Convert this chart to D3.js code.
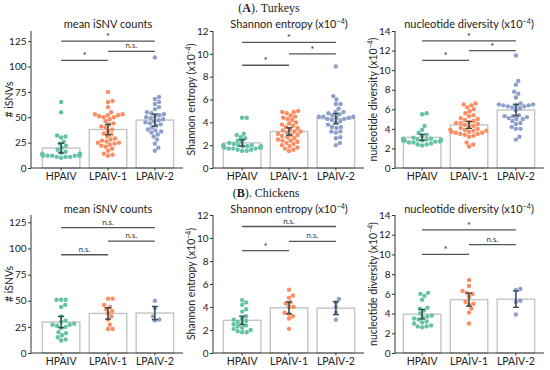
<!DOCTYPE html>
<html><head><meta charset="utf-8">
<script src="https://cdn.jsdelivr.net/npm/d3@7"></script>
<style>body{margin:0;background:#fff}svg{display:block}</style>
</head><body><svg id="c" width="550" height="370"></svg>
<script>
// ---------- DATA ----------
const categories = ["HPAIV", "LPAIV-1", "LPAIV-2"];
const groupColors = ["#66c2a5", "#fc8d62", "#8da0cb"];
const rowTitles = ["A", "B"];
const rowNames = ["Turkeys", "Chickens"];
const panelTitles = ["mean iSNV counts", "Shannon entropy", "nucleotide diversity"];
const yLabels = ["# iSNVs", "Shannon entropy", "nucleotide diversity"];
const ticksIsnv = [0, 25, 50, 75, 100, 125];
const ticksEntropy = [0, 2, 4, 6, 8, 10, 12];
const ticksDiversity = [0, 2, 4, 6, 8, 10, 12, 14];

// Turkeys
const tkIsnvHP = [65, 55, 32, 31, 30, 26, 24, 22, 20, 18, 16, 15, 14, 14, 13, 13, 13, 13, 13, 12, 12, 12, 12, 12, 11, 11, 11, 10];
const tkIsnvLP1 = [75, 66, 65, 60, 55, 53, 53, 52, 52, 51, 50, 50, 48, 46, 44, 43, 41, 40, 38, 36, 34, 33, 31, 29, 28, 27, 26, 25, 25, 24, 23, 22, 21, 19, 17, 14, 13, 12];
const tkIsnvLP2 = [109, 70, 68, 65, 63, 60, 58, 55, 54, 53, 52, 51, 50, 49, 48, 47, 46, 45, 44, 43, 42, 40, 38, 37, 36, 35, 33, 31, 28, 24, 20, 17];
const tkEntHP = [4.4, 4.4, 3.0, 2.9, 2.7, 2.6, 2.4, 2.3, 2.2, 2.1, 2.0, 2.0, 2.0, 1.9, 1.9, 1.9, 1.9, 1.8, 1.8, 1.8, 1.7, 1.7, 1.7, 1.6, 1.6, 1.5, 1.5];
const tkEntLP1 = [5.0, 4.9, 4.9, 4.8, 4.6, 4.5, 4.4, 4.3, 4.2, 4.0, 3.9, 3.8, 3.7, 3.6, 3.5, 3.4, 3.3, 3.2, 3.2, 3.1, 3.0, 2.9, 2.8, 2.7, 2.6, 2.5, 2.4, 2.4, 2.3, 2.2, 2.1, 2.0, 1.9, 1.8, 1.7, 1.6, 1.5, 2.9];
const tkEntLP2 = [8.9, 6.3, 6.0, 5.6, 5.6, 5.2, 4.9, 4.9, 4.8, 4.7, 4.6, 4.5, 4.5, 4.4, 4.3, 4.2, 4.5, 4.4, 4.3, 4.1, 4.0, 3.6, 3.5, 3.8, 3.6, 3.2, 3.1, 3.2, 2.7, 2.6, 2.2, 2.0];
const tkDivHP = [5.6, 5.5, 4.3, 3.9, 3.6, 3.4, 3.3, 3.1, 3.0, 3.0, 2.9, 2.9, 2.9, 2.9, 2.8, 2.8, 2.8, 2.8, 2.8, 2.7, 2.7, 2.6, 2.6, 2.5, 2.4, 2.4, 2.3];
const tkDivLP1 = [6.6, 6.5, 6.4, 6.2, 6.0, 5.8, 5.6, 5.4, 5.3, 5.1, 5.0, 4.9, 4.8, 4.7, 4.6, 4.5, 4.4, 4.3, 4.2, 4.1, 4.0, 3.9, 3.8, 3.7, 3.6, 3.5, 3.9, 3.8, 3.7, 3.6, 3.5, 3.4, 3.3, 3.2, 2.6, 2.4, 2.2, 4.6];
const tkDivLP2 = [11.5, 8.9, 8.5, 7.8, 7.6, 7.2, 6.6, 6.5, 6.4, 6.4, 6.3, 6.2, 6.1, 6.5, 6.4, 6.3, 5.9, 5.3, 5.1, 5.0, 5.4, 5.3, 5.2, 5.0, 4.5, 4.8, 4.6, 4.0, 4.2, 4.0, 3.2, 2.9];
// Chickens
const chIsnvHP = [51, 51, 51, 46, 44, 35, 31, 30, 28, 27, 27, 26, 25, 24, 20, 19, 17, 15, 13, 12];
const chIsnvLP1 = [52, 52, 46, 44, 42, 40, 38, 35, 32, 27, 23, 23];
const chIsnvLP2 = [50, 43, 35, 32, 31];
const chEntHP = [4.6, 4.4, 4.2, 3.8, 3.6, 3.2, 3.0, 2.9, 2.8, 2.7, 2.6, 2.5, 2.4, 2.3, 2.2, 2.1, 2.0, 1.9, 1.8, 1.8];
const chEntLP1 = [5.5, 5.0, 4.8, 4.4, 4.3, 4.0, 4.0, 3.5, 3.4, 3.2, 3.0, 2.1];
const chEntLP2 = [4.7, 4.4, 4.0, 3.5, 2.9];
const chDivHP = [6.1, 6.0, 5.8, 5.4, 4.6, 4.5, 4.3, 4.0, 3.8, 3.7, 3.6, 3.5, 3.4, 3.2, 3.1, 3.0, 2.8, 2.7, 2.7, 2.6];
const chDivLP1 = [7.4, 6.8, 6.3, 6.1, 6.0, 5.7, 5.2, 5.0, 4.9, 4.5, 4.1, 3.0];
const chDivLP2 = [6.5, 6.4, 5.3, 5.2, 3.9];

// significance brackets: [fromGroup, toGroup, level, label]
const tkIsnvSig = [[0, 1, 106, "*"], [1, 2, 115, "n.s."], [0, 2, 125, "*"]];
const tkEntSig = [[0, 1, 9, "*"], [1, 2, 10, "*"], [0, 2, 11, "*"]];
const tkDivSig = [[0, 1, 11, "*"], [1, 2, 12, "*"], [0, 2, 13, "*"]];
const chIsnvSig = [[0, 1, 94, "n.s."], [1, 2, 107, "n.s."], [0, 2, 120, "n.s."]];
const chEntSig = [[0, 1, 8.9, "*"], [1, 2, 9.7, "n.s."], [0, 2, 11, "n.s."]];
const chDivSig = [[0, 1, 10, "*"], [1, 2, 11, "n.s."], [0, 2, 12.5, "*"]];

const yMaxTop = [135, 12, 14];
const yMaxBottom = [132, 12, 14];

// ---------- LAYOUT ----------
const SANS = "Lato, 'Open Sans', sans-serif";
const SERIF = "'Liberation Serif', 'DejaVu Serif', serif";
const colLayout = [{axis: 31, c0: 58}, {axis: 213, c0: 239}, {axis: 395, c0: 419}];
const rowLayout = [
  {y0: 168, yTop: 31, titleY: 28, headY: 12, headX: 269},
  {y0: 353, yTop: 215, titleY: 213, headY: 197, headX: 266}
];
const panels = [
  {row: 0, col: 0, groups: [tkIsnvHP, tkIsnvLP1, tkIsnvLP2], ticks: ticksIsnv, yMax: yMaxTop[0], sig: tkIsnvSig, exp: false},
  {row: 0, col: 1, groups: [tkEntHP, tkEntLP1, tkEntLP2], ticks: ticksEntropy, yMax: yMaxTop[1], sig: tkEntSig, exp: true},
  {row: 0, col: 2, groups: [tkDivHP, tkDivLP1, tkDivLP2], ticks: ticksDiversity, yMax: yMaxTop[2], sig: tkDivSig, exp: true},
  {row: 1, col: 0, groups: [chIsnvHP, chIsnvLP1, chIsnvLP2], ticks: ticksIsnv, yMax: yMaxBottom[0], sig: chIsnvSig, exp: false},
  {row: 1, col: 1, groups: [chEntHP, chEntLP1, chEntLP2], ticks: ticksEntropy, yMax: yMaxBottom[1], sig: chEntSig, exp: true},
  {row: 1, col: 2, groups: [chDivHP, chDivLP1, chDivLP2], ticks: ticksDiversity, yMax: yMaxBottom[2], sig: chDivSig, exp: true}
];

const svg = d3.select("#c");

// row headings
rowLayout.forEach((r, i) => {
  const t = svg.append("text").attr("x", r.headX).attr("y", r.headY)
    .attr("text-anchor", "middle").attr("font-family", SERIF).attr("font-size", 12).attr("fill", "#222");
  t.append("tspan").text("(");
  t.append("tspan").attr("font-weight", "bold").text(rowTitles[i]);
  t.append("tspan").text("). " + rowNames[i]);
});

function addExpLabel(sel, base) {
  sel.append("tspan").text(base + " (x10");
  sel.append("tspan").attr("dy", -4).attr("font-size", "0.65em").text("\u22124");
  sel.append("tspan").attr("dy", 4).text(")");
}

function swarm(values, y, r, maxOff) {
  const order = values.map((v, i) => i).sort((a, b) => values[a] - values[b]);
  const placed = [];
  const out = new Array(values.length);
  const d = 2 * r + 0.2;
  order.forEach(i => {
    const py = y(values[i]);
    const near = placed.filter(p => Math.abs(p.y - py) < d);
    const cands = [0];
    near.forEach(p => {
      const dx = Math.sqrt(d * d - (p.y - py) ** 2);
      cands.push(p.x + dx, p.x - dx);
    });
    cands.sort((a, b) => Math.abs(a) - Math.abs(b));
    let x = null;
    for (const c of cands) {
      if (near.every(p => (p.x - c) ** 2 + (p.y - py) ** 2 >= d * d - 0.01)) { x = c; break; }
    }
    if (x === null) x = 0;
    x = Math.max(-maxOff, Math.min(maxOff, x));
    placed.push({x: x, y: py});
    out[i] = {x: x, y: py, v: values[i]};
  });
  return out;
}

panels.forEach(p => {
  const R = rowLayout[p.row], C = colLayout[p.col];
  const g = svg.append("g");
  const x = d3.scaleBand().domain(categories).range([C.c0 - 25, C.c0 + 125]).padding(0.2);
  const y = d3.scaleLinear().domain([0, p.yMax]).range([R.y0, R.yTop]);
  const xc = c => x(c) + x.bandwidth() / 2;

  // title
  const tt = g.append("text").attr("x", (C.c0 - 25 + C.c0 + 125) / 2).attr("y", R.titleY)
    .attr("text-anchor", "middle").attr("font-family", SANS).attr("font-size", 11).attr("fill", "#222");
  if (p.exp) addExpLabel(tt, panelTitles[p.col]); else tt.text(panelTitles[p.col]);

  // y label
  const yl = g.append("text")
    .attr("transform", `translate(${C.axis - 18},${(R.y0 + R.yTop) / 2}) rotate(-90)`)
    .attr("text-anchor", "middle").attr("font-family", SANS).attr("font-size", 10.5).attr("fill", "#222");
  if (p.exp) addExpLabel(yl, yLabels[p.col]); else yl.text(yLabels[p.col]);

  // bars
  p.groups.forEach((vals, gi) => {
    const m = d3.mean(vals);
    g.append("rect").attr("x", x(categories[gi])).attr("width", x.bandwidth())
      .attr("y", y(m)).attr("height", R.y0 - y(m))
      .attr("fill", "#fff").attr("stroke", "#c4c4c4").attr("stroke-width", 1.4);
  });

  // points
  p.groups.forEach((vals, gi) => {
    const pts = swarm(vals, y, 2.2, x.bandwidth() / 2);
    g.selectAll(null).data(pts).enter().append("circle")
      .attr("cx", d => xc(categories[gi]) + d.x).attr("cy", d => d.y).attr("r", 2.2)
      .attr("fill", groupColors[gi]);
  });

  // error bars (95% CI)
  p.groups.forEach((vals, gi) => {
    const m = d3.mean(vals), n = vals.length;
    const sd = Math.sqrt(d3.sum(vals, v => (v - m) ** 2) / n);
    const h = 1.96 * sd / Math.sqrt(n);
    const cx = xc(categories[gi]);
    const col = "#2f4a4a";
    g.append("line").attr("x1", cx).attr("x2", cx).attr("y1", y(m - h)).attr("y2", y(m + h))
      .attr("stroke", col).attr("stroke-width", 1.5);
    [m - h, m + h].forEach(v => g.append("line").attr("x1", cx - 3).attr("x2", cx + 3)
      .attr("y1", y(v)).attr("y2", y(v)).attr("stroke", col).attr("stroke-width", 1.3));
  });

  // axes
  const ya = d3.axisLeft(y).tickValues(p.ticks).tickSize(3).tickPadding(1.5);
  const yg = g.append("g").attr("transform", `translate(${C.axis},0)`).call(ya);
  yg.select(".domain").attr("d", `M0,${R.yTop}V${R.y0}`);
  yg.selectAll("text").attr("font-family", SANS).attr("font-size", 10).attr("fill", "#222");
  yg.selectAll("line,path").attr("stroke", "#333");

  const xa = d3.axisBottom(x).tickSize(2.5).tickPadding(2);
  const xg = g.append("g").attr("transform", `translate(0,${R.y0})`).call(xa);
  xg.select(".domain").attr("d", `M${C.axis},0H${C.c0 + 125}`);
  xg.selectAll("text").attr("font-family", SANS).attr("font-size", 10.5).attr("fill", "#222");
  xg.selectAll("line,path").attr("stroke", "#333");

  // significance brackets
  p.sig.forEach(s => {
    const x1 = xc(categories[s[0]]), x2 = xc(categories[s[1]]);
    const ly = y(s[2]);
    g.append("line").attr("x1", x1).attr("x2", x2).attr("y1", ly).attr("y2", ly)
      .attr("stroke", "#555").attr("stroke-width", 1.3);
    g.append("text").attr("x", (x1 + x2) / 2).attr("y", s[3] === "*" ? ly - 1 : ly - 3)
      .attr("text-anchor", "middle").attr("font-family", SANS)
      .attr("font-size", s[3] === "*" ? 10 : 8).attr("fill", "#333").text(s[3]);
  });
});
</script></body></html>
